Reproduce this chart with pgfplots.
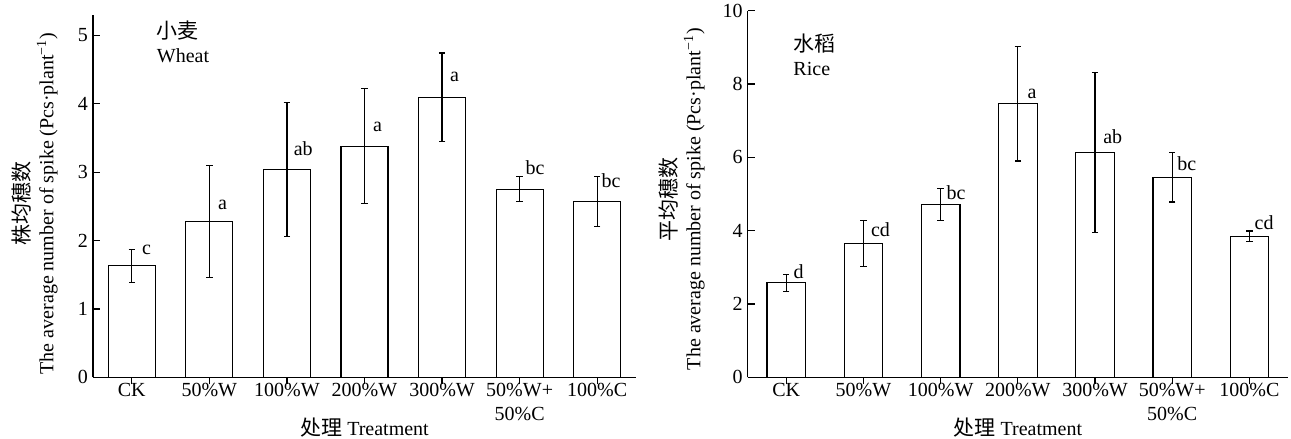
\documentclass[border=0pt]{standalone}
\usepackage{pgfplots}
\pgfplotsset{compat=1.18}
\usepackage{fontspec}
\setmainfont{Liberation Serif}
\newfontfamily\cjk[Scale=1.05]{Noto Sans CJK SC}
\pgfplotsset{
 myax/.style={
  scale only axis,
  anchor=south west,
  axis lines=left,
  axis line style={-, line width=0.6pt},
  every outer x axis line/.append style={-},
  every outer y axis line/.append style={-},
  tick align=inside,
  major tick length=3.5pt,
  tick style={black, line width=0.6pt},
  xmin=-0.5, xmax=6.5, ymin=0,
  xtick={0,...,6},
  xticklabels={CK,50\%W,100\%W,200\%W,300\%W,{\begin{tabular}[t]{@{}c@{}}50\%W+\\50\%C\end{tabular}},100\%C},
  xticklabel style={anchor=base, inner sep=0pt, yshift=-5.9pt},
  yticklabel style={xshift=1pt},
  /pgf/number format/assume math mode=true,
  ybar,
  clip=false,
  xlabel={{\cjk 处理} Treatment},
  xlabel style={at={(axis description cs:0.5,0)}, anchor=base, yshift=-28.85pt, inner sep=0pt},
 },
 mybar/.style={
  fill=white, draw=black, line width=0.6pt,
  error bars/.cd, y dir=both, y explicit,
  error bar style={black, line width=0.6pt},
  error mark options={rotate=90, mark size=1.6pt, black, line width=0.6pt},
 },
}
\begin{document}
\begin{tikzpicture}
\useasboundingbox (0,0) rectangle (645.5pt,219.5pt);
% Wheat
\begin{axis}[myax,
  at={(46.5pt,30.85pt)},
  width=271.5pt, height=181.15pt,
  ymax=5.3, ytick={0,1,2,3,4,5},
  bar width=0.606,
  ylabel={{\cjk 株均穗数}\\The average number of spike (Pcs·plant\textsuperscript{−1})},
  ylabel style={align=center, at={(axis description cs:-0.0645,0.48)}, anchor=south, inner sep=0pt},
]
\addplot+[mybar] table[x=x, y=y, y error=e] {
x y e
0 1.63 0.24
1 2.28 0.82
2 3.035 0.98
3 3.38 0.84
4 4.094 0.65
5 2.753 0.18
6 2.571 0.37
};
\node[anchor=base, inner sep=0pt] at (axis cs:0.19,1.79) {c};
\node[anchor=base, inner sep=0pt] at (axis cs:1.17,2.45) {a};
\node[anchor=base, inner sep=0pt] at (axis cs:2.21,3.25) {ab};
\node[anchor=base, inner sep=0pt] at (axis cs:3.17,3.60) {a};
\node[anchor=base, inner sep=0pt] at (axis cs:4.16,4.33) {a};
\node[anchor=base, inner sep=0pt] at (axis cs:5.20,2.96) {bc};
\node[anchor=base, inner sep=0pt] at (axis cs:6.18,2.77) {bc};
\node[anchor=north west, align=left, inner sep=0pt] at (rel axis cs:0.117,0.986) {{\cjk 小麦}\\Wheat};
\end{axis}
% Rice
\begin{axis}[myax,
  at={(373.85pt,30.85pt)},
  width=270.15pt, height=183.3pt,
  ymax=10, ytick={0,2,4,6,8,10},
  bar width=0.5,
  ylabel={{\cjk 平均穗数}\\The average number of spike (Pcs·plant\textsuperscript{−1})},
  ylabel style={align=center, at={(axis description cs:-0.079,0.486)}, anchor=south, inner sep=0pt},
]
\addplot+[mybar] table[x=x, y=y, y error=e] {
x y e
0 2.58 0.23
1 3.65 0.62
2 4.71 0.44
3 7.46 1.56
4 6.14 2.18
5 5.46 0.68
6 3.85 0.14
};
\node[anchor=base, inner sep=0pt] at (axis cs:0.16,2.70) {d};
\node[anchor=base, inner sep=0pt] at (axis cs:1.22,3.83) {cd};
\node[anchor=base, inner sep=0pt] at (axis cs:2.20,4.85) {bc};
\node[anchor=base, inner sep=0pt] at (axis cs:3.185,7.61) {a};
\node[anchor=base, inner sep=0pt] at (axis cs:4.23,6.38) {ab};
\node[anchor=base, inner sep=0pt] at (axis cs:5.19,5.65) {bc};
\node[anchor=base, inner sep=0pt] at (axis cs:6.19,4.04) {cd};
\node[anchor=north west, align=left, inner sep=0pt] at (rel axis cs:0.084,0.938) {{\cjk 水稻}\\Rice};
\end{axis}
\end{tikzpicture}
\end{document}
